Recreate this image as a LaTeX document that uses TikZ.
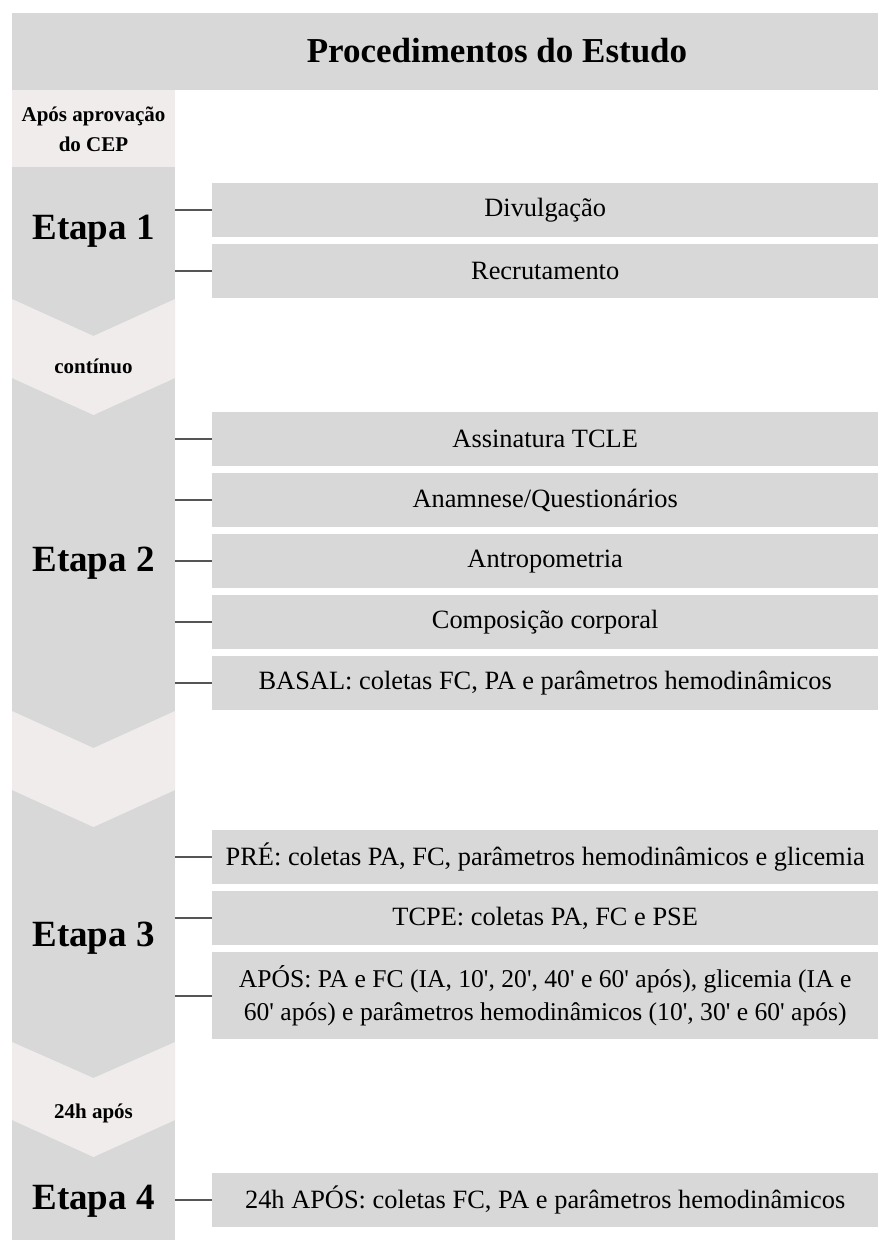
\documentclass[tikz,border=0pt]{standalone}
\usepackage{fontspec}
\newfontfamily\tnr{Liberation Serif}
\definecolor{dk}{HTML}{D8D8D8}
\definecolor{lt}{HTML}{EFECEB}
\definecolor{ln}{HTML}{555555}
\begin{document}
\begin{tikzpicture}[x=1pt,y=-1pt,
  box/.style={fill=dk, inner sep=0pt, anchor=north west, minimum width=666pt, minimum height=54pt,
    font=\tnr\fontsize{26.4}{33}\selectfont, align=center},
  conn/.style={draw=ln, line width=1.6pt},
  etapa/.style={font=\tnr\bfseries\fontsize{37}{40}\selectfont, inner sep=0pt},
  small/.style={font=\tnr\bfseries\fontsize{21}{30}\selectfont, align=center, inner sep=0pt}]
\useasboundingbox (0,0) rectangle (878,1240);
\fill[white] (0,0) rectangle (878,1240);
% header
\node[fill=dk, inner sep=0pt, anchor=north west, minimum width=866pt, minimum height=77pt] (hdr) at (12,13) {};
\node[font=\tnr\bfseries\fontsize{35}{40}\selectfont, inner sep=0pt] (title) at (497,51) {Procedimentos do Estudo};
% left column
\fill[lt] (12,90) rectangle (175,167);
\fill[dk] (12,167) rectangle (175,1240);
\fill[lt] (12,299) -- (93.5,336) -- (175,299) -- (175,378) -- (93.5,415) -- (12,378) -- cycle;
\fill[lt] (12,711) -- (93.5,748) -- (175,711) -- (175,790) -- (93.5,827) -- (12,790) -- cycle;
\fill[lt] (12,1042) -- (93.5,1078) -- (175,1042) -- (175,1120) -- (93.5,1157) -- (12,1120) -- cycle;
\node[small] (cep) at (93.5,129.5) {Após aprovação\\do CEP};
\node[small] (cont) at (93.5,366) {contínuo};
\node[small] (h24) at (93.5,1113) {24h após};
\node[etapa] (e1) at (93.5,231) {Etapa 1};
\node[etapa] (e2) at (93.5,563) {Etapa 2};
\node[etapa] (e3) at (93.5,938) {Etapa 3};
\node[etapa] (e4) at (93.5,1201) {Etapa 4};
% boxes
\node[box] (b11) at (212,183) {Divulgação};
\node[box] (b12) at (212,244) {Recrutamento};
\node[box] (b21) at (212,412) {Assinatura TCLE};
\node[box] (b22) at (212,473) {Anamnese/Questionários};
\node[box] (b23) at (212,534) {Antropometria};
\node[box] (b24) at (212,595) {Composição corporal};
\node[box] (b25) at (212,656) {BASAL: coletas FC, PA e parâmetros hemodinâmicos};
\node[box] (b31) at (212,830) {PRÉ: coletas PA, FC, parâmetros hemodinâmicos e glicemia};
\node[box] (b32) at (212,891) {TCPE: coletas PA, FC e PSE};
\node[box, minimum height=87pt, font=\tnr\fontsize{25.6}{33}\selectfont] (b33) at (212,952) {APÓS: PA e FC (IA, 10', 20', 40' e 60' após), glicemia (IA e\\60' após) e parâmetros hemodinâmicos (10', 30' e 60' após)};
\node[box] (b41) at (212,1173) {24h APÓS: coletas FC, PA e parâmetros hemodinâmicos};
% connector start points on the column edge
\foreach \n in {b11,b12,b21,b22,b23,b24,b25,b31,b32,b33,b41}{
  \coordinate (s\n) at (175,0 |- \n.west);
  \draw[conn] (s\n) -- (\n.west);
}
\end{tikzpicture}
\end{document}
